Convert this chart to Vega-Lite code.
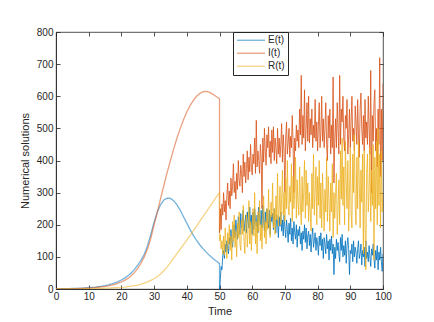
{
  "$schema": "https://vega.github.io/schema/vega-lite/v6.json",
  "width": 327,
  "height": 257,
  "autosize": {"type": "none"},
  "padding": {"left": 56, "top": 32, "right": 51, "bottom": 33},
  "background": "white",
  "config": {
    "font": "Liberation Sans",
    "view": {"stroke": "#262626", "strokeWidth": 0.8},
    "axis": {
      "grid": false,
      "labelFlush": false,
      "labelOverlap": false,
      "domainColor": "#262626",
      "domainWidth": 0.8,
      "tickColor": "#262626",
      "tickWidth": 0.8,
      "tickSize": -4,
      "labelColor": "#262626",
      "labelFont": "Liberation Sans",
      "labelFontSize": 10,
      "titleColor": "#262626",
      "titleFont": "Liberation Sans",
      "titleFontSize": 11,
      "titleFontWeight": "normal"
    }
  },
  "data": {
    "values": [
      {"t":0,"E":0.6,"I":0.4,"R":0},{"t":1,"E":0.7,"I":0.5,"R":0.05},{"t":2,"E":0.9,"I":0.6,"R":0.1},{"t":3,"E":1.0,"I":0.7,"R":0.15},{"t":4,"E":1.2,"I":0.9,"R":0.2},
      {"t":5,"E":1.5,"I":1.1,"R":0.3},{"t":6,"E":1.8,"I":1.3,"R":0.4},{"t":7,"E":2.2,"I":1.6,"R":0.5},{"t":8,"E":2.7,"I":2,"R":0.7},{"t":9,"E":3.3,"I":2.4,"R":0.85},
      {"t":10,"E":4,"I":3,"R":1},{"t":11,"E":4.9,"I":3.6,"R":1.2},{"t":12,"E":5.9,"I":4.4,"R":1.4},{"t":13,"E":7.2,"I":5.4,"R":1.7},{"t":14,"E":8.7,"I":6.6,"R":2.1},
      {"t":15,"E":10.6,"I":8,"R":2.5},{"t":16,"E":12.9,"I":9.8,"R":3},{"t":17,"E":15.7,"I":12,"R":3.5},{"t":18,"E":19,"I":14.6,"R":4},{"t":19,"E":23,"I":18,"R":4.5},
      {"t":20,"E":28,"I":22,"R":5},{"t":21,"E":34,"I":27,"R":6},{"t":22,"E":41,"I":33,"R":7.5},{"t":23,"E":50,"I":41,"R":9},{"t":24,"E":61,"I":51,"R":10.5},
      {"t":25,"E":74,"I":64,"R":12},{"t":26,"E":90,"I":80,"R":15},{"t":27,"E":108,"I":100,"R":18},{"t":28,"E":135,"I":125,"R":22},{"t":29,"E":170,"I":158,"R":27},
      {"t":30,"E":208,"I":200,"R":32},{"t":31,"E":240,"I":240,"R":39},{"t":32,"E":263,"I":282,"R":47},{"t":33,"E":277,"I":323,"R":57},{"t":34,"E":283,"I":363,"R":69},
      {"t":35,"E":282,"I":400,"R":82},{"t":36,"E":275,"I":436,"R":96},{"t":37,"E":262,"I":470,"R":110},{"t":38,"E":245,"I":500,"R":124},{"t":39,"E":225,"I":527,"R":138},
      {"t":40,"E":205,"I":551,"R":152},{"t":41,"E":185,"I":571,"R":166},{"t":42,"E":167,"I":587,"R":181},{"t":43,"E":151,"I":600,"R":196},{"t":44,"E":137,"I":609,"R":211},
      {"t":45,"E":125,"I":614,"R":226},{"t":46,"E":114,"I":615,"R":241},{"t":47,"E":104,"I":612,"R":256},{"t":48,"E":95,"I":606,"R":271},{"t":49,"E":87,"I":599,"R":286},
      {"t":50,"E":79,"I":592,"R":300},
      {"t":50.02,"E":0,"I":175,"R":150},
      {"t":50.25,"E":30,"I":250,"R":170},{"t":50.5,"E":70,"I":185,"R":125},{"t":50.75,"E":60,"I":265,"R":150},{"t":51,"E":105,"I":230,"R":110},
      {"t":51.25,"E":120,"I":300,"R":165},{"t":51.5,"E":95,"I":240,"R":105},{"t":51.75,"E":140,"I":275,"R":190},{"t":52,"E":115,"I":215,"R":135},
      {"t":52.25,"E":150,"I":290,"R":95},{"t":52.5,"E":125,"I":330,"R":175},{"t":52.75,"E":110,"I":260,"R":140},{"t":53,"E":160,"I":305,"R":200},
      {"t":53.25,"E":140,"I":250,"R":120},{"t":53.5,"E":185,"I":345,"R":165},{"t":53.75,"E":150,"I":290,"R":90},{"t":54,"E":130,"I":320,"R":210},
      {"t":54.25,"E":175,"I":390,"R":150},{"t":54.5,"E":200,"I":300,"R":230},{"t":54.75,"E":160,"I":335,"R":130},{"t":55,"E":215,"I":280,"R":180},
      {"t":55.25,"E":185,"I":360,"R":100},{"t":55.5,"E":155,"I":310,"R":205},{"t":55.75,"E":225,"I":400,"R":160},{"t":56,"E":200,"I":340,"R":240},
      {"t":56.25,"E":170,"I":320,"R":140},{"t":56.5,"E":235,"I":385,"R":120},{"t":56.75,"E":190,"I":360,"R":215},{"t":57,"E":215,"I":300,"R":170},
      {"t":57.25,"E":245,"I":420,"R":260},{"t":57.5,"E":180,"I":350,"R":150},{"t":57.75,"E":205,"I":395,"R":110},{"t":58,"E":230,"I":330,"R":200},
      {"t":58.25,"E":175,"I":375,"R":235},{"t":58.5,"E":240,"I":430,"R":130},{"t":58.75,"E":210,"I":340,"R":185},{"t":59,"E":190,"I":410,"R":275},
      {"t":59.25,"E":255,"I":365,"R":140},{"t":59.5,"E":200,"I":450,"R":210},{"t":59.75,"E":230,"I":380,"R":120},{"t":60,"E":170,"I":355,"R":190},
      {"t":60.25,"E":240,"I":420,"R":250},{"t":60.5,"E":185,"I":390,"R":165},{"t":60.75,"E":250,"I":470,"R":300},{"t":61,"E":215,"I":360,"R":140},
      {"t":61.25,"E":195,"I":525,"R":210},{"t":61.5,"E":230,"I":380,"R":110},{"t":61.75,"E":175,"I":430,"R":240},{"t":62,"E":255,"I":400,"R":180},
      {"t":62.25,"E":220,"I":360,"R":275},{"t":62.5,"E":200,"I":450,"R":150},{"t":62.75,"E":245,"I":410,"R":200},{"t":63,"E":190,"I":250,"R":125},
      {"t":63.25,"E":260,"I":470,"R":230},{"t":63.5,"E":215,"I":395,"R":290},{"t":63.75,"E":180,"I":500,"R":160},{"t":64,"E":240,"I":430,"R":210},
      {"t":64.25,"E":205,"I":385,"R":140},{"t":64.5,"E":250,"I":480,"R":250},{"t":64.75,"E":225,"I":440,"R":185},{"t":65,"E":190,"I":505,"R":310},
      {"t":65.25,"E":245,"I":410,"R":200},{"t":65.5,"E":170,"I":460,"R":160},{"t":65.75,"E":230,"I":390,"R":270},{"t":66,"E":210,"I":495,"R":225},
      {"t":66.25,"E":235,"I":425,"R":330},{"t":66.5,"E":185,"I":505,"R":190},{"t":66.75,"E":250,"I":400,"R":250},{"t":67,"E":200,"I":470,"R":170},
      {"t":67.25,"E":175,"I":440,"R":290},{"t":67.5,"E":230,"I":390,"R":215},{"t":67.75,"E":205,"I":500,"R":360},{"t":68,"E":160,"I":420,"R":195},
      {"t":68.25,"E":225,"I":470,"R":250},{"t":68.5,"E":195,"I":410,"R":320},{"t":68.75,"E":240,"I":450,"R":200},{"t":69,"E":180,"I":515,"R":280},
      {"t":69.25,"E":215,"I":395,"R":370},{"t":69.5,"E":165,"I":480,"R":230},{"t":69.75,"E":230,"I":430,"R":300},{"t":70,"E":190,"I":300,"R":210},
      {"t":70.25,"E":160,"I":470,"R":345},{"t":70.5,"E":215,"I":520,"R":250},{"t":70.75,"E":185,"I":420,"R":400},{"t":71,"E":145,"I":455,"R":260},
      {"t":71.25,"E":205,"I":500,"R":230},{"t":71.5,"E":170,"I":410,"R":320},{"t":71.75,"E":220,"I":475,"R":270},{"t":72,"E":150,"I":440,"R":390},
      {"t":72.25,"E":190,"I":540,"R":210},{"t":72.5,"E":140,"I":455,"R":350},{"t":72.75,"E":210,"I":300,"R":250},{"t":73,"E":175,"I":470,"R":300},
      {"t":73.25,"E":155,"I":430,"R":410},{"t":73.5,"E":200,"I":510,"R":220},{"t":73.75,"E":130,"I":460,"R":340},{"t":74,"E":185,"I":495,"R":270},
      {"t":74.25,"E":165,"I":440,"R":230},{"t":74.5,"E":195,"I":560,"R":380},{"t":74.75,"E":140,"I":480,"R":260},{"t":75,"E":175,"I":665,"R":200},
      {"t":75.25,"E":120,"I":450,"R":350},{"t":75.5,"E":180,"I":540,"R":240},{"t":75.75,"E":155,"I":470,"R":300},{"t":76,"E":200,"I":620,"R":400},
      {"t":76.25,"E":145,"I":430,"R":220},{"t":76.5,"E":190,"I":500,"R":370},{"t":76.75,"E":125,"I":580,"R":260},{"t":77,"E":165,"I":460,"R":330},
      {"t":77.25,"E":180,"I":600,"R":210},{"t":77.5,"E":135,"I":455,"R":300},{"t":77.75,"E":170,"I":530,"R":240},{"t":78,"E":115,"I":480,"R":180},
      {"t":78.25,"E":160,"I":560,"R":360},{"t":78.5,"E":190,"I":440,"R":250},{"t":78.75,"E":130,"I":510,"R":420},{"t":79,"E":150,"I":470,"R":230},
      {"t":79.25,"E":175,"I":590,"R":300},{"t":79.5,"E":120,"I":460,"R":380},{"t":79.75,"E":160,"I":520,"R":200},{"t":80,"E":140,"I":430,"R":350},
      {"t":80.25,"E":105,"I":510,"R":260},{"t":80.5,"E":165,"I":580,"R":400},{"t":80.75,"E":135,"I":440,"R":220},{"t":81,"E":175,"I":490,"R":330},
      {"t":81.25,"E":120,"I":600,"R":190},{"t":81.5,"E":155,"I":460,"R":360},{"t":81.75,"E":95,"I":530,"R":280},{"t":82,"E":160,"I":440,"R":180},
      {"t":82.25,"E":140,"I":500,"R":310},{"t":82.5,"E":110,"I":580,"R":240},{"t":82.75,"E":170,"I":450,"R":410},{"t":83,"E":125,"I":400,"R":210},
      {"t":83.25,"E":150,"I":540,"R":350},{"t":83.5,"E":90,"I":470,"R":270},{"t":83.75,"E":155,"I":560,"R":180},{"t":84,"E":120,"I":420,"R":330},
      {"t":84.25,"E":165,"I":510,"R":240},{"t":84.5,"E":110,"I":440,"R":390},{"t":84.75,"E":140,"I":660,"R":160},{"t":85,"E":45,"I":330,"R":300},
      {"t":85.25,"E":130,"I":470,"R":220},{"t":85.5,"E":95,"I":530,"R":300},{"t":85.75,"E":155,"I":440,"R":360},{"t":86,"E":120,"I":580,"R":170},
      {"t":86.25,"E":145,"I":500,"R":250},{"t":86.5,"E":110,"I":420,"R":340},{"t":86.75,"E":85,"I":665,"R":200},{"t":87,"E":160,"I":450,"R":430},
      {"t":87.25,"E":120,"I":560,"R":280},{"t":87.5,"E":170,"I":520,"R":470},{"t":87.75,"E":100,"I":600,"R":260},{"t":88,"E":135,"I":470,"R":380},
      {"t":88.25,"E":105,"I":430,"R":200},{"t":88.5,"E":150,"I":540,"R":460},{"t":88.75,"E":80,"I":500,"R":330},{"t":89,"E":135,"I":590,"R":250},
      {"t":89.25,"E":160,"I":420,"R":400},{"t":89.5,"E":125,"I":480,"R":180},{"t":89.75,"E":45,"I":560,"R":300},{"t":90,"E":120,"I":440,"R":440},
      {"t":90.25,"E":110,"I":520,"R":230},{"t":90.5,"E":140,"I":600,"R":190},{"t":90.75,"E":85,"I":460,"R":420},{"t":91,"E":150,"I":500,"R":300},
      {"t":91.25,"E":100,"I":430,"R":480},{"t":91.5,"E":130,"I":570,"R":260},{"t":91.75,"E":115,"I":520,"R":200},{"t":92,"E":80,"I":450,"R":410},
      {"t":92.25,"E":125,"I":590,"R":250},{"t":92.5,"E":150,"I":480,"R":460},{"t":92.75,"E":95,"I":410,"R":330},{"t":93,"E":110,"I":560,"R":190},
      {"t":93.25,"E":140,"I":610,"R":370},{"t":93.5,"E":75,"I":500,"R":270},{"t":93.75,"E":120,"I":450,"R":420},{"t":94,"E":100,"I":540,"R":110},
      {"t":94.25,"E":130,"I":430,"R":430},{"t":94.5,"E":70,"I":590,"R":200},{"t":94.75,"E":150,"I":470,"R":60},{"t":95,"E":95,"I":520,"R":360},
      {"t":95.25,"E":115,"I":450,"R":420},{"t":95.5,"E":85,"I":600,"R":240},{"t":95.75,"E":135,"I":500,"R":300},{"t":96,"E":100,"I":420,"R":440},
      {"t":96.25,"E":70,"I":680,"R":210},{"t":96.5,"E":125,"I":300,"R":370},{"t":96.75,"E":105,"I":540,"R":260},{"t":97,"E":140,"I":460,"R":450},
      {"t":97.25,"E":95,"I":580,"R":90},{"t":97.5,"E":65,"I":620,"R":410},{"t":97.75,"E":120,"I":430,"R":250},{"t":98,"E":90,"I":500,"R":460},
      {"t":98.25,"E":135,"I":380,"R":200},{"t":98.5,"E":60,"I":560,"R":500},{"t":98.75,"E":115,"I":450,"R":260},{"t":99,"E":90,"I":720,"R":420},
      {"t":99.25,"E":130,"I":350,"R":190},{"t":99.5,"E":85,"I":560,"R":430},{"t":99.75,"E":55,"I":400,"R":240},{"t":100,"E":110,"I":640,"R":300}
    ]
  },
  "transform": [{"fold": ["E", "I", "R"], "as": ["series", "value"]}],
  "layer": [
    {
      "transform": [{"filter": "datum.t <= 50.02"}],
      "mark": {"type": "line", "strokeWidth": 1.3, "opacity": 0.55, "clip": true},
      "encoding": {
        "x": {"field": "t", "type": "quantitative", "scale": {"domain": [0, 100]},
              "axis": {"orient": "bottom", "title": "Time", "values": [0,10,20,30,40,50,60,70,80,90,100], "labelPadding": 6, "titlePadding": 4}},
        "y": {"field": "value", "type": "quantitative", "scale": {"domain": [0, 800]},
              "axis": {"orient": "left", "title": "Numerical solutions", "values": [0,100,200,300,400,500,600,700,800], "labelPadding": 7, "titlePadding": 6}},
        "color": {"field": "series", "type": "nominal",
                  "scale": {"domain": ["E", "I", "R"], "range": ["#0072BD", "#D95319", "#EDB120"]},
                  "legend": {"orient": "none", "legendX": 177, "legendY": 0, "title": null,
                             "labelExpr": "datum.label + '(t)'", "symbolType": "stroke", "symbolSize": 784,
                             "symbolStrokeWidth": 1.3, "clipHeight": 10.5, "rowPadding": 2,
                             "strokeColor": "#262626", "fillColor": "white", "padding": 3,
                             "labelFontSize": 10, "labelColor": "#262626", "labelFont": "Liberation Sans", "labelOffset": 2,
                             "encode": {"symbols": {"update": {"opacity": {"value": 0.5}}}}}}
      }
    },
    {
      "transform": [{"filter": "datum.t >= 50.02"}],
      "mark": {"type": "line", "strokeWidth": 0.9, "opacity": 0.9, "clip": true},
      "encoding": {
        "x": {"field": "t", "type": "quantitative", "axis": {"orient": "top", "labels": false, "title": null, "domain": false, "values": [0,10,20,30,40,50,60,70,80,90,100]}},
        "y": {"field": "value", "type": "quantitative", "axis": {"orient": "right", "labels": false, "title": null, "domain": false, "values": [0,100,200,300,400,500,600,700,800]}},
        "color": {"field": "series", "type": "nominal"}
      }
    }
  ],
  "resolve": {"axis": {"x": "independent", "y": "independent"}}
}
